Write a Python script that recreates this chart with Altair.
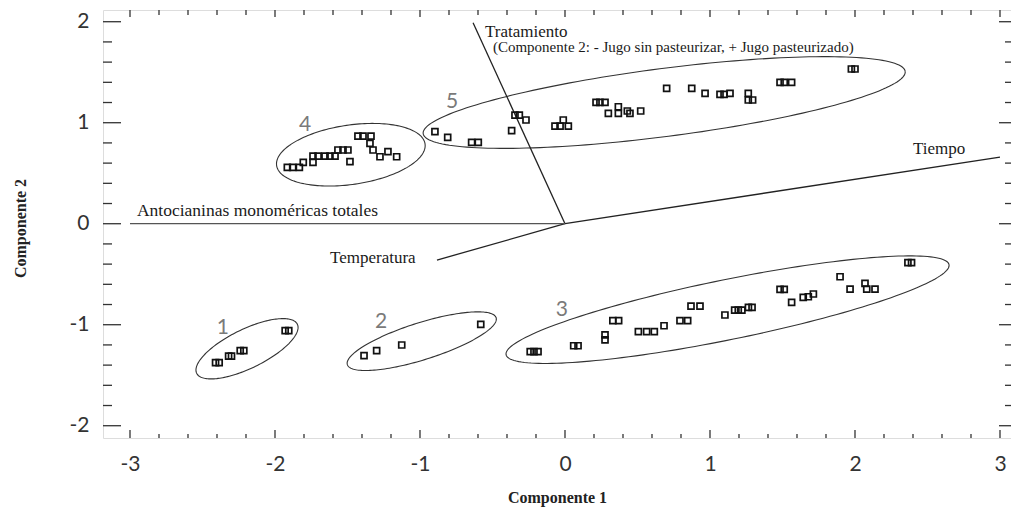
import altair as alt
import numpy as np
import pandas as pd

# ---------------- data ----------------
g1_x = [-2.41, -2.385, -2.32, -2.30, -2.24, -2.215, -1.93, -1.905]
g1_y = [-1.376, -1.376, -1.31, -1.31, -1.257, -1.257, -1.059, -1.059]

g2_x = [-1.386, -1.299, -1.126, -0.581]
g2_y = [-1.307, -1.257, -1.201, -0.996]

g3_x = [-0.24, -0.214, -0.186, 0.06, 0.09, 0.276, 0.276, 0.33, 0.37, 0.506, 0.563, 0.616,
        0.683, 0.793, 0.846, 0.869, 0.931, 1.103, 1.17, 1.195, 1.22, 1.265, 1.29, 1.483,
        1.512, 1.563, 1.643, 1.678, 1.713, 1.897, 1.966, 2.069, 2.081, 2.138, 2.365, 2.39]
g3_y = [-1.267, -1.267, -1.267, -1.208, -1.208, -1.10, -1.15, -0.96, -0.96, -1.069, -1.069, -1.069,
        -1.01, -0.96, -0.96, -0.815, -0.815, -0.904, -0.855, -0.855, -0.855, -0.828, -0.828, -0.65,
        -0.65, -0.778, -0.729, -0.723, -0.696, -0.525, -0.647, -0.59, -0.647, -0.647, -0.386, -0.386]

g4_x = [-1.915, -1.878, -1.832, -1.805, -1.738, -1.738, -1.703, -1.655, -1.621, -1.586, -1.566,
        -1.531, -1.497, -1.483, -1.428, -1.393, -1.338, -1.345, -1.324, -1.276, -1.221, -1.161]
g4_y = [0.558, 0.558, 0.558, 0.608, 0.608, 0.67, 0.67, 0.67, 0.67, 0.67, 0.73,
        0.73, 0.73, 0.614, 0.868, 0.868, 0.868, 0.796, 0.73, 0.663, 0.713, 0.663]

g5_x = [-0.897, -0.809, -0.644, -0.598, -0.368, -0.345, -0.315, -0.269, -0.069, -0.034, 0.023,
        -0.012, 0.214, 0.241, 0.276, 0.299, 0.368, 0.368, 0.430, 0.448, 0.522, 0.701, 0.874,
        0.966, 1.069, 1.097, 1.138, 1.264, 1.264, 1.294, 1.483, 1.512, 1.563, 1.975, 2.0]
g5_y = [0.911, 0.855, 0.806, 0.806, 0.921, 1.076, 1.076, 1.027, 0.967, 0.967, 0.967,
        1.027, 1.202, 1.202, 1.202, 1.093, 1.158, 1.093, 1.116, 1.093, 1.116, 1.341, 1.341,
        1.291, 1.281, 1.281, 1.291, 1.291, 1.225, 1.225, 1.400, 1.400, 1.400, 1.532, 1.532]

# group ellipses: centre (data), semi-axes (px), tilt (deg)
ell_cx = [-2.193, -0.988, 1.121, -1.477, 0.684]
ell_cy = [-1.238, -1.163, -0.851, 0.683, 1.200]
ell_a = [56, 78, 226, 75, 243]
ell_b = [19.5, 18.5, 30, 29.7, 34]
ell_t = [26, 17.5, 11.5, 8.3, 7.35]

group_names = ["1", "2", "3", "4", "5"]
group_lx = [-2.359, -1.269, -0.021, -1.793, -0.779]
group_ly = [-1.03, -0.973, -0.854, 0.977, 1.205]

# loading vectors
vec_names = ["Tratamiento", "Tiempo", "Temperatura", "Antocianinas monoméricas totales"]
vec_x = [-0.634, 3.0, -0.883, -3.0]
vec_y = [1.99, 0.66, -0.36, 0.0]

ann_text = ["Tratamiento", "(Componente 2: - Jugo sin pasteurizar, + Jugo pasteurizado)",
            "Tiempo", "Antocianinas monoméricas totales", "Temperatura"]
ann_x = [-0.552, -0.497, 2.40, -2.952, -1.621]
ann_y = [1.849, 1.705, 0.69, 0.076, -0.389]
ann_fs = [17, 15, 17, 17.5, 17]

x_major = [-3, -2, -1, 0, 1, 2, 3]
y_major = [-2, -1, 0, 1, 2]

# ---------------- layout ----------------
W, H = 908, 428
XMIN, XMAX = -3.1862, 3.0759
YMIN, YMAX = -2.1216, 2.116
XS = W / (XMAX - XMIN)
YS = H / (YMAX - YMIN)

xsc = alt.Scale(domain=[XMIN, XMAX], nice=False, zero=False)
ysc = alt.Scale(domain=[YMIN, YMAX], nice=False, zero=False)

pts = pd.DataFrame({
    "x": g1_x + g2_x + g3_x + g4_x + g5_x,
    "y": g1_y + g2_y + g3_y + g4_y + g5_y,
})

rows = []
t = np.linspace(0, 2 * np.pi, 181)
for i in range(len(ell_cx)):
    th = np.radians(ell_t[i])
    dx = ell_a[i] * np.cos(t) * np.cos(th) - ell_b[i] * np.sin(t) * np.sin(th)
    dy = ell_a[i] * np.cos(t) * np.sin(th) + ell_b[i] * np.sin(t) * np.cos(th)
    for k in range(len(t)):
        rows.append({"g": i, "o": k, "x": ell_cx[i] + dx[k] / XS, "y": ell_cy[i] + dy[k] / YS})
ell = pd.DataFrame(rows)

vec = pd.DataFrame({"name": vec_names, "x0": 0.0, "y0": 0.0, "x1": vec_x, "y1": vec_y})
ann = pd.DataFrame({"text": ann_text, "x": ann_x, "y": ann_y, "fs": ann_fs})
glab = pd.DataFrame({"text": group_names, "x": group_lx, "y": group_ly})

xminor = [round(k * 0.2, 2) for k in range(-15, 16) if k % 5 != 0]
yminor = [round(k * 0.2, 2) for k in range(-10, 11) if k % 5 != 0]
xmaj_df = pd.DataFrame({"v": x_major})
xmin_df = pd.DataFrame({"v": xminor})
ymaj_df = pd.DataFrame({"v": y_major})
ymin_df = pd.DataFrame({"v": yminor})

TICK = "#333333"
LBL = "'' + datum.value"

x_axis = alt.Axis(values=x_major, labelExpr=LBL, title="Componente 1", labelFont="Lato",
                  labelFontSize=21, labelColor="#333333", labelPadding=15, ticks=False,
                  domain=False, grid=False,
                  titleFont="Liberation Serif", titleFontSize=16, titleFontWeight="bold",
                  titleColor="#222222", titleBaseline="alphabetic", titleY=64)
y_axis = alt.Axis(values=y_major, labelExpr=LBL, title="Componente 2", labelFont="Lato",
                  labelFontSize=21, labelColor="#333333", labelPadding=14, ticks=False,
                  domain=False, grid=False,
                  titleFont="Liberation Serif", titleFontSize=16, titleFontWeight="bold",
                  titleColor="#222222", titleAngle=-90, titleBaseline="alphabetic",
                  titleX=-78, titleY=218, titleAlign="center")

base_pts = alt.Chart(pts).mark_point(shape="square", filled=False, size=36, strokeWidth=1.7,
                                     color="#111111", opacity=1).encode(
    x=alt.X("x:Q", scale=xsc, axis=x_axis),
    y=alt.Y("y:Q", scale=ysc, axis=y_axis),
)

ellipses = alt.Chart(ell).mark_line(color="#333333", strokeWidth=1.1).encode(
    x=alt.X("x:Q", scale=xsc), y=alt.Y("y:Q", scale=ysc),
    detail="g:N", order="o:Q",
)

vectors = alt.Chart(vec).mark_rule(strokeWidth=1.3).encode(
    x=alt.X("x0:Q", scale=xsc), y=alt.Y("y0:Q", scale=ysc),
    x2="x1:Q", y2="y1:Q",
    color=alt.Color("name:N", scale=alt.Scale(domain=vec_names,
                    range=["#222222", "#222222", "#222222", "#555555"]), legend=None),
)

annots = alt.Chart(ann).mark_text(align="left", baseline="alphabetic", font="Liberation Serif",
                                  color="#1a1a1a").encode(
    x=alt.X("x:Q", scale=xsc), y=alt.Y("y:Q", scale=ysc),
    text="text:N", size=alt.Size("fs:Q", scale=None),
)

glabels = alt.Chart(glab).mark_text(align="center", baseline="middle", font="Lato",
                                    fontSize=21, color="#7a7a7a").encode(
    x=alt.X("x:Q", scale=xsc), y=alt.Y("y:Q", scale=ysc), text="text:N",
)

def xticks(df, y0, y1):
    return alt.Chart(df).mark_rule(color=TICK, strokeWidth=1.3).encode(
        x=alt.X("v:Q", scale=xsc), y=alt.value(y0), y2=alt.value(y1))

def yticks(df, x0, x1):
    return alt.Chart(df).mark_rule(color=TICK, strokeWidth=1.3).encode(
        y=alt.Y("v:Q", scale=ysc), x=alt.value(x0), x2=alt.value(x1))

ticks = [
    xticks(xmaj_df, H, H - 8), xticks(xmin_df, H, H - 4),
    xticks(xmaj_df, 0, 7), xticks(xmin_df, 0, 5),
    yticks(ymaj_df, 0, 18), yticks(ymin_df, 0, 9),
    yticks(ymaj_df, W, W - 12), yticks(ymin_df, W, W - 6),
]

chart = alt.layer(ellipses, vectors, base_pts, annots, glabels, *ticks).properties(
    width=W, height=H, autosize="none",
    padding={"left": 95, "top": 2, "right": 0, "bottom": 69},
).configure_view(stroke="#444444", strokeWidth=2).configure(background="white")

chart.save("out.html", embed_options={"renderer": "svg", "actions": False})
